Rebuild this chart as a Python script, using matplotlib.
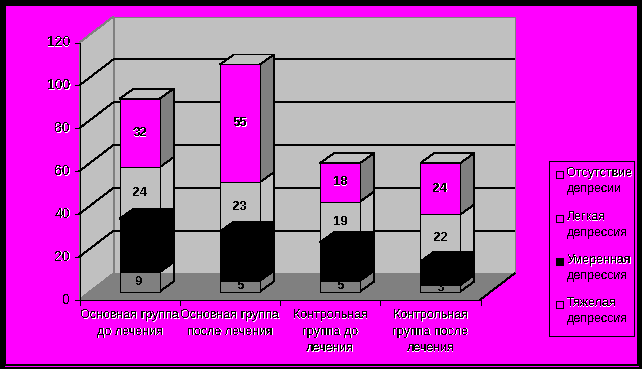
import matplotlib
matplotlib.use('Agg')
import matplotlib.pyplot as plt
from matplotlib.patches import Polygon, Rectangle

plt.rcParams['font.family'] = ['Liberation Sans', 'DejaVu Sans']
plt.rcParams['text.antialiased'] = False

categories = ['Основная группа\nдо лечения', 'Основная группа\nпосле лечения',
              'Контрольная\nгруппа до\nлечения', 'Контрольная\nгруппа после\nлечения']
severe = [9, 5, 5, 3]
moderate = [25, 23, 18, 11]
mild = [24, 23, 19, 22]
none_dep = [32, 55, 18, 24]
y_ticks = [0, 20, 40, 60, 80, 100, 120]
legend_labels = ['Отсутствие\nдепресии', 'Легкая\nдепрессия', 'Умеренная\nдепрессия', 'Тяжелая\nдепрессия']

MAGENTA = '#ff00ff'
GRAY = '#c0c0c0'
DARK = '#808080'
LW = 0.6

# chart geometry, in pixels
X0, X1 = 79.5, 480.5
Y0, Y120 = 299.5, 42.5
DX, DY = 34, -26
BAR_W = 40
BAR_SHIFT = 10
BAR_DX, BAR_DY = 14, -10
BAR_BASE = 291.5

fig = plt.figure(figsize=(6.42, 3.69), dpi=100, facecolor='black')
ax = fig.add_axes([0, 0, 1, 1])
ax.set_xlim(0, 642)
ax.set_ylim(369, 0)
ax.axis('off')


def val_h(v):
    return v * (Y0 - Y120) / 120


def poly(pts, fc, ec='black', lw=LW, z=1):
    ax.add_patch(Polygon(pts, closed=True, facecolor=fc, edgecolor=ec, linewidth=lw,
                         antialiased=False, zorder=z))


def halo_text(x, y, s, size, ha='center', weight='normal', z=10, spacing=1.25, align='center'):
    ax.text(x + 0.7, y + 0.5, s, color='white', fontsize=size, ha=ha, va='center',
            weight=weight, zorder=z, linespacing=spacing, multialignment=align)
    ax.text(x, y, s, color='black', fontsize=size, ha=ha, va='center',
            weight=weight, zorder=z + 0.1, linespacing=spacing, multialignment=align)


# frame
ax.add_patch(Rectangle((6, 6), 631, 358, facecolor=MAGENTA, edgecolor='none', zorder=0))
ax.plot([5, 638], [365.5, 365.5], color=MAGENTA, lw=LW, zorder=0.5, antialiased=False)

# walls and floor
poly([(X0 + DX, Y120 + DY), (X1 + DX, Y120 + DY), (X1 + DX, Y0 + DY), (X0 + DX, Y0 + DY)], GRAY, DARK)
poly([(X0, Y120), (X0 + DX, Y120 + DY), (X0 + DX, Y0 + DY), (X0, Y0)], GRAY, DARK)
poly([(X0, Y0), (X0 + DX, Y0 + DY), (X1 + DX, Y0 + DY), (X1, Y0)], DARK, 'none')
ax.plot([X1, X1 + DX], [Y0, Y0 + DY], color='black', lw=LW, zorder=1.5, antialiased=False)

# grid, axes and ticks
for t in y_ticks:
    y = Y0 - val_h(t)
    if 0 < t < 120:
        ax.plot([X0, X0 + DX, X1 + DX], [y, y + DY, y + DY], color='black', lw=LW,
                zorder=1.2, antialiased=False)
    ax.plot([X0 - 5, X0], [y, y], color='black', lw=LW, zorder=3, antialiased=False)
    halo_text(70, y, str(t), 10, ha='right')
ax.plot([X0, X0, X1], [Y120, Y0, Y0], color='black', lw=LW, zorder=3, antialiased=False)
step = (X1 - X0) / len(categories)
for i in range(len(categories) + 1):
    ax.plot([X0 + i * step] * 2, [Y0, Y0 + 5], color='black', lw=LW, zorder=3, antialiased=False)
for i, c in enumerate(categories):
    n_lines = c.count('\n') + 1
    halo_text(X0 + (i + 0.5) * step, 315.5 + (n_lines - 1) * 8, c, 9, spacing=1.5)

# bars
for i in range(len(categories)):
    z = 4 + i
    left = X0 + (i + 0.5) * step - BAR_W / 2 + BAR_SHIFT
    right = left + BAR_W
    b0 = BAR_BASE
    b1 = b0 - val_h(severe[i])
    b2 = b1 - val_h(moderate[i])
    b3 = b2 - val_h(mild[i])
    b4 = b3 - val_h(none_dep[i])

    def front(lo, hi):
        return [(left, lo), (right, lo), (right, hi), (left, hi)]

    def side(lo, hi):
        return [(right, lo), (right + BAR_DX, lo + BAR_DY), (right + BAR_DX, hi + BAR_DY), (right, hi)]

    def top(hi):
        return [(left, hi), (right, hi), (right + BAR_DX, hi + BAR_DY), (left + BAR_DX, hi + BAR_DY)]

    # severe: only the front face is filled, side stays see-through
    poly(side(b0, b1), 'none', z=z)
    poly(front(b0, b1), DARK, z=z)
    ax.text(left + BAR_W / 2, (b0 + b1) / 2, str(severe[i]), color='black', fontsize=9.5,
            weight='bold', ha='center', va='center', zorder=z)
    # mild
    poly(side(b2, b3), GRAY, z=z)
    poly(front(b2, b3), GRAY, z=z)
    ax.text(left + BAR_W / 2, (b2 + b3) / 2, str(mild[i]), color='black', fontsize=9.5,
            weight='bold', ha='center', va='center', zorder=z + 0.1)
    # moderate: solid black block
    poly(side(b1, b2), 'black', z=z + 0.2)
    poly(front(b1, b2), 'black', z=z + 0.2)
    poly(top(b2), 'black', z=z + 0.2)
    # none
    poly(side(b3, b4), DARK, z=z + 0.3)
    poly(front(b3, b4), MAGENTA, z=z + 0.3)
    poly(top(b4), GRAY, z=z + 0.3)
    halo_text(left + BAR_W / 2, (b3 + b4) / 2, str(none_dep[i]), 9.5, weight='bold', z=z + 0.4)

# legend
ax.add_patch(Rectangle((548.5, 160.5), 85, 175, facecolor=MAGENTA, edgecolor='black', lw=LW,
                       antialiased=False, zorder=2))
legend_y = [181, 225, 268, 311]
legend_fc = [MAGENTA, MAGENTA, 'black', MAGENTA]
for lab, y, fc in zip(legend_labels, legend_y, legend_fc):
    ax.add_patch(Rectangle((555.5, y - 10.5), 7, 7, facecolor=fc, edgecolor='black', lw=LW,
                           antialiased=False, zorder=3))
    halo_text(566.5, y, lab, 9, ha='left', spacing=1.35, align='left')

fig.savefig('out.png', dpi=100, facecolor='black')
